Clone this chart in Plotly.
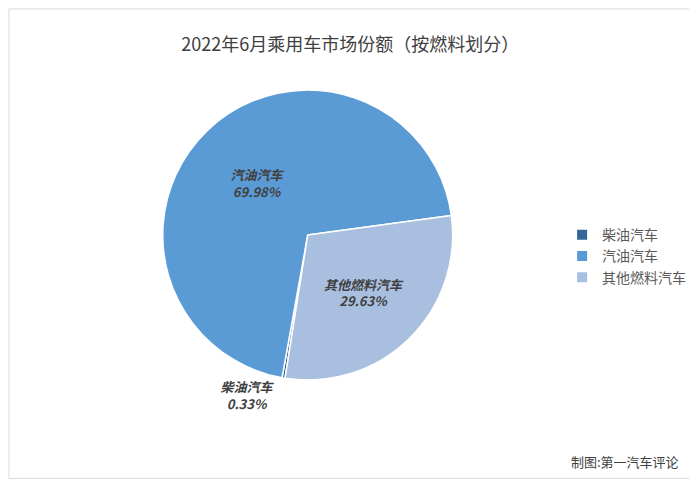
import plotly.graph_objects as go

labels = ["柴油汽车", "汽油汽车", "其他燃料汽车"]
shares = [0.33, 69.98, 29.63]
colors = ["#336699", "#5B9BD5", "#A9BFE0"]
text_pos = ["outside", "inside", "inside"]

title_text = "2022年6月乘用车市场份额（按燃料划分）"
source_text = "制图:第一汽车评论"

FONT = "Noto Sans CJK SC"

fig = go.Figure(
    go.Pie(
        labels=labels,
        values=shares,
        sort=False,
        direction="clockwise",
        rotation=189,
        marker=dict(colors=colors, line=dict(color="#FFFFFF", width=1.5)),
        texttemplate="<b><i>%{label}</i></b><br><b><i>%{value:.2f}%</i></b>",
        textposition=text_pos,
        insidetextorientation="horizontal",
        textfont=dict(family=FONT, size=13, color="#404040"),
        outsidetextfont=dict(family=FONT, size=13, color="#404040"),
        hole=0,
        domain=dict(x=[0.12, 0.74], y=[0.225, 0.829]),
        showlegend=True,
    )
)

fig.update_layout(
    width=697,
    height=480,
    margin=dict(l=0, r=0, t=0, b=0),
    paper_bgcolor="#FFFFFF",
    plot_bgcolor="#FFFFFF",
    font=dict(family=FONT, color="#595959"),
    title=dict(
        text=title_text,
        x=0.491,
        xanchor="center",
        y=0.923,
        yanchor="middle",
        font=dict(family=FONT, size=18, color="#404040"),
    ),
    legend=dict(
        x=0.795,
        y=0.483,
        xanchor="left",
        yanchor="middle",
        font=dict(family=FONT, size=14, color="#595959"),
        itemsizing="constant",
        bgcolor="rgba(0,0,0,0)",
    ),
    annotations=[
        dict(
            text=source_text,
            xref="paper",
            yref="paper",
            x=0.965,
            y=0.055,
            xanchor="right",
            yanchor="middle",
            showarrow=False,
            font=dict(family=FONT, size=13, color="#404040"),
        )
    ],
    shapes=[
        dict(
            type="rect",
            xref="paper",
            yref="paper",
            x0=0.0015,
            y0=0.02,
            x1=0.986,
            y1=0.998,
            line=dict(color="#D9D9D9", width=1),
            fillcolor="rgba(0,0,0,0)",
            layer="below",
        )
    ],
)

fig.write_html("out.html")
